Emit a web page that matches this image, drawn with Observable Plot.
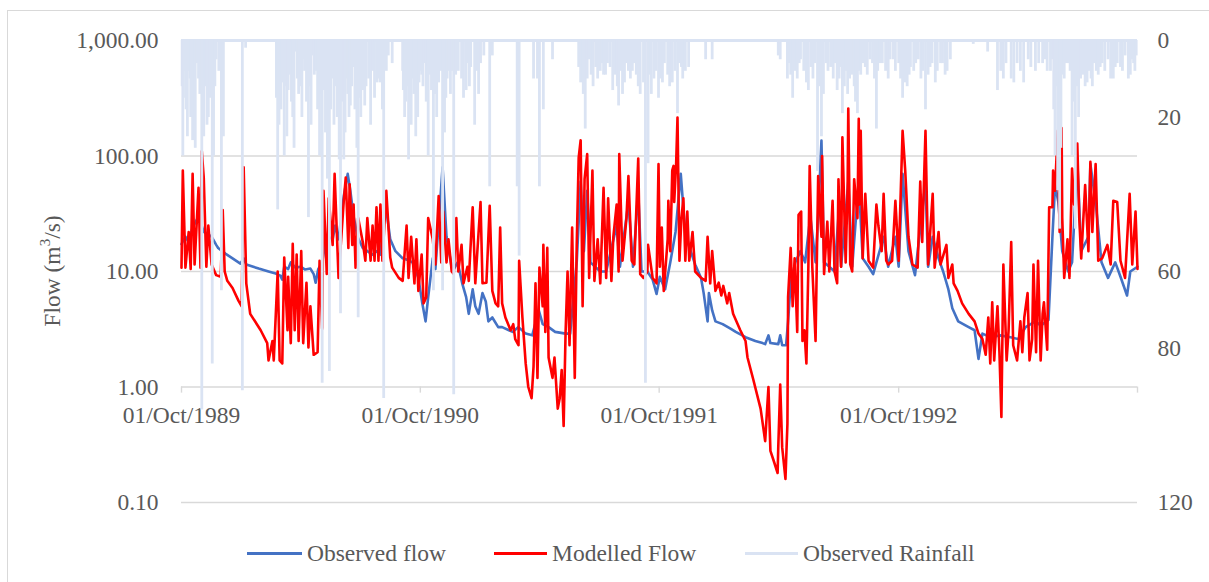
<!DOCTYPE html>
<html><head><meta charset="utf-8">
<script src="https://cdn.jsdelivr.net/npm/d3@7"></script>
<script src="https://cdn.jsdelivr.net/npm/@observablehq/plot@0.6"></script>
<style>
html,body{margin:0;padding:0;background:#fff;overflow:hidden;width:1209px;height:582px;}
#frame{position:absolute;left:7px;top:10px;width:1400px;height:800px;border:1px solid #d9d9d9;box-sizing:border-box;}
#chart{position:absolute;left:0;top:0;}
#legend{position:absolute;left:0;top:538px;width:1209px;height:30px;font-family:"Times New Roman","Liberation Serif",serif;font-size:23.5px;color:#595959;}
.item{position:absolute;top:0;display:flex;align-items:center;height:30px;white-space:nowrap;}
.swatch{display:inline-block;width:54px;height:3px;margin-right:6px;}
</style></head><body>
<div id="frame"></div>
<div id="chart"></div>
<div id="legend"></div>
<script>
// Day offsets from 01/Oct/1989, values in m3/s
const observedFlow = [[0,17.3],[6,20],[11,18],[17,24],[26,30],[34,22],[46,20],[53,17],[56,16],[67,14.3],[78,13],[90,11.7],[95,13],[99,11.5],[118,10.6],[133,10],[144,9.6],[151,9.2],[154,8.5],[157,11],[163,10.5],[167,12],[174,10.8],[182,11],[189,10.4],[197,10.6],[202,9.5],[205,8.0],[209,10.5],[215,12],[220,18],[225,20],[231,19],[235,25],[240,19],[248,45],[254,70],[258,50],[263,30],[269,20],[277,16],[284,15],[292,14],[298,15],[304,14],[312,38],[319,19],[327,15],[338,13],[347,12.5],[353,12],[362,8.8],[368,5.3],[373,3.7],[377,6],[384,13],[388,10.5],[399,80],[405,20],[414,10],[422,12],[429,7.9],[435,6],[439,4.3],[445,7],[449,5],[454,4.3],[460,6.5],[465,5.5],[469,3.7],[475,4.0],[484,3.3],[490,3.3],[506,3.0],[515,3.3],[526,2.9],[536,2.8],[546,4.6],[552,3.5],[561,3.3],[571,3.0],[587,2.9],[594,2.9],[597,4.5],[604,12],[610,60],[615,15],[620,50],[625,12],[640,10],[649,10],[665,25],[670,11],[683,40],[690,11],[698,50],[703,10],[712,10],[720,8.5],[726,6.4],[731,9],[739,7],[747,12],[755,22],[763,70],[769,25],[775,17],[785,11.5],[794,8.8],[798,6.5],[804,3.7],[806,6.5],[811,4.6],[816,3.7],[827,3.5],[839,3.2],[847,3.0],[862,2.7],[877,2.5],[888,2.4],[892,2.35],[897,2.8],[900,2.4],[912,2.35],[915,2.8],[918,2.3],[924,2.3],[927,3.7],[931,8],[938,12],[946,15],[953,12],[961,30],[969,12],[973,30],[978,136],[982,12],[990,11],[998,10],[1004,30],[1008,11],[1019,60],[1025,11],[1035,60],[1041,13],[1050,11],[1057,9.5],[1073,20],[1080,11],[1091,20],[1096,11],[1102,70],[1111,15],[1121,9.3],[1137,60],[1141,11],[1148,20],[1157,13],[1164,10],[1172,7],[1178,4.8],[1187,3.7],[1203,3.3],[1212,3.1],[1218,1.75],[1224,2.9],[1236,2.7],[1251,2.8],[1267,2.7],[1279,2.6],[1290,3.3],[1305,3.7],[1313,3.4],[1325,3.8],[1331,20],[1335,56],[1340,40],[1346,15],[1355,10],[1361,12],[1369,89],[1375,15],[1386,20],[1389,85],[1397,40],[1406,12],[1416,8.8],[1427,12],[1435,9],[1445,6.2],[1450,10],[1461,11]];

const modelledFlow = [[0,10.8],[2,75],[6,10.8],[11,22],[14,10.5],[17,70],[20,11.5],[26,53],[29,10.8],[31,110],[34,65],[38,11],[41,25],[46,11.5],[53,9.3],[60,9.0],[63,34],[66,10],[70,8.3],[78,7.2],[87,5.6],[92,5.0],[95,80],[99,7.9],[105,4.3],[121,3.1],[131,2.4],[133,1.7],[139,2.5],[141,1.7],[147,10],[150,1.7],[154,1.6],[157,13.2],[162,3.1],[163,9],[167,2.4],[170,17.4],[173,3.1],[176,14],[179,2.5],[183,15],[186,2.4],[191,8],[194,2.2],[197,5],[202,1.9],[208,2.0],[211,12.4],[215,3.2],[217,50],[222,9.5],[225,43],[231,17],[234,70],[240,8.8],[248,41],[251,65],[255,16],[257,57],[261,17],[263,38],[266,10.8],[270,29],[277,18],[281,12.4],[284,29],[289,12.4],[292,25],[295,12.4],[298,36],[301,12.4],[304,38],[307,12.4],[313,50],[319,13.2],[322,10.8],[332,8.8],[338,8.3],[344,25],[347,8.8],[351,20],[356,7.9],[359,19],[362,6.8],[367,14],[370,5.3],[374,6],[377,29],[384,19],[388,11.5],[393,45],[397,12],[400,33],[405,12],[408,19],[413,10],[416,9.5],[420,29],[423,10],[428,17],[431,7.9],[437,11],[439,8.3],[445,36],[449,7.9],[457,40],[460,7.9],[466,8],[471,37],[475,6.8],[480,5.3],[484,5.0],[487,24],[490,5.3],[495,4.0],[503,3.1],[507,3.5],[510,2.6],[515,2.3],[516,12.4],[521,4.0],[526,1.6],[530,1.0],[535,0.8],[538,1.5],[541,7.9],[544,1.2],[547,10.8],[552,5],[553,17],[556,3],[559,16],[561,1.8],[567,1.2],[570,1.8],[575,0.65],[578,0.8],[581,1.4],[584,0.46],[587,3],[590,10],[593,2.3],[597,24],[601,1.2],[604,17],[607,97],[610,137],[613,5],[616,63],[620,104],[623,8.8],[628,75],[631,8.3],[636,19],[640,7.9],[645,53],[649,8.8],[652,43],[657,8.3],[660,20],[665,38],[668,10],[669,104],[674,12.4],[680,29],[683,67],[688,12.4],[692,11.5],[698,95],[701,9.5],[706,8.8],[712,10],[713,17],[720,8.8],[726,7.9],[729,85],[731,11],[734,24],[737,6.8],[743,19],[744,41],[747,15],[750,75],[752,82],[753,40],[756,88],[758,215],[761,12.4],[764,29],[767,43],[770,12.4],[773,33],[776,12.4],[781,22],[785,10],[794,8.8],[801,8.3],[804,20],[808,7.9],[811,15],[816,6.8],[821,8],[825,6.2],[828,7.5],[834,5.3],[837,6.5],[843,4.3],[854,3.1],[862,2.5],[865,1.8],[874,1.15],[885,0.65],[892,0.34],[897,1.0],[900,0.28],[905,0.23],[911,0.18],[912,0.3],[915,1.05],[918,0.3],[923,0.16],[926,0.48],[927,6],[931,16],[934,5],[937,13],[941,3],[943,31],[947,33],[949,2.5],[952,3.1],[955,1.6],[958,11],[960,82],[964,11],[969,2.5],[973,67],[978,20],[979,100],[982,9.5],[987,27],[990,10],[995,41],[998,10],[1002,7.9],[1004,63],[1008,11],[1010,145],[1015,12],[1018,53],[1019,258],[1022,11.5],[1025,10],[1028,63],[1033,29],[1035,210],[1036,38],[1038,165],[1041,13],[1045,47],[1050,12.4],[1057,10.8],[1062,38],[1065,25],[1070,15],[1073,47],[1077,12.4],[1080,11.5],[1086,12.4],[1091,41],[1096,12.4],[1102,165],[1106,75],[1111,20],[1117,11.5],[1125,10.8],[1129,60],[1132,18],[1137,165],[1141,11.5],[1148,47],[1151,10.8],[1157,22],[1160,11.5],[1169,17],[1172,8.8],[1178,11.5],[1180,7.9],[1186,6.8],[1193,5.3],[1203,4.3],[1212,3.7],[1218,2.9],[1224,2.6],[1229,1.9],[1233,4.0],[1236,1.6],[1239,5.4],[1242,1.7],[1247,5.0],[1250,2.0],[1253,0.55],[1256,11.5],[1261,1.7],[1264,3.1],[1268,18],[1271,2.3],[1277,1.7],[1282,3.7],[1285,2.0],[1288,4.0],[1293,6.5],[1296,1.7],[1300,2.6],[1302,11.5],[1306,2.0],[1309,12.4],[1313,1.7],[1316,4.3],[1318,5.4],[1323,2.1],[1326,36],[1331,36],[1332,75],[1335,50],[1339,165],[1342,22],[1345,175],[1346,29],[1349,8.8],[1354,19],[1357,8.8],[1361,78],[1364,38],[1369,128],[1372,29],[1375,13],[1381,56],[1386,15],[1389,89],[1392,22],[1397,85],[1401,12.4],[1407,13],[1415,17],[1420,11.5],[1424,41],[1430,40],[1435,12.4],[1442,8.8],[1449,47],[1453,11.5],[1458,33],[1461,10.5]];

// Observed rainfall (mm), rain days only
const observedRainfall = [[1,12],[2,30],[3,15],[5,8],[7,18],[9,25],[11,8],[13,10],[14,20],[17,26],[19,12],[21,28],[23,6],[26,10],[28,14],[31,96],[34,25],[36,10],[37,12],[39,22],[41,20],[43,15],[44,8],[47,84],[49,30],[51,12],[53,5],[57,8],[61,65],[64,25],[93,91],[98,2],
[145,15],[147,44],[149,22],[150,5],[152,18],[154,11],[157,30],[159,12],[161,25],[163,13],[165,9],[168,16],[170,20],[172,28],[174,3],[177,10],[179,14],[182,12],[184,20],[186,5],[188,8],[191,16],[194,46],[196,12],[198,22],[200,4],[203,9],[206,8],[208,18],[211,30],[213,14],[215,89],[218,13],[220,24],[223,36],[226,86],[228,18],[231,10],[233,22],[234,9],[236,12],[238,20],[241,31],[243,71],[245,16],[248,31],[250,24],[252,10],[254,14],[256,20],[258,17],[260,12],[263,7],[265,18],[268,28],[270,72],[272,15],[274,20],[277,13],[280,17],[282,12],[286,10],[289,22],[292,8],[295,15],[299,11],[302,10],[304,11],[307,18],[309,93],[313,8],[316,4],[322,6],
[338,8],[339,13],[341,20],[343,16],[345,12],[347,31],[349,18],[351,22],[353,10],[355,14],[358,25],[361,20],[363,11],[365,8],[367,9],[369,12],[371,6],[374,16],[376,7],[377,30],[380,9],[382,13],[385,65],[387,14],[390,20],[393,11],[396,8],[399,65],[402,24],[404,15],[406,10],[408,8],[411,14],[413,8],[416,92],[419,9],[423,8],[428,10],[431,15],[435,13],[438,6],[440,12],[442,7],[448,22],[451,8],[454,14],[457,6],[462,4],[471,38],[475,4],
[513,38],[516,56],[538,10],[544,10],[547,38],[553,18],[567,5],
[607,7],[610,11],[612,8],[614,14],[617,23],[620,10],[623,5],[626,9],[629,12],[633,7],[636,10],[640,8],[643,6],[645,9],[648,9],[651,6],[655,7],[659,13],[662,9],[666,12],[668,17],[671,8],[674,14],[677,11],[680,6],[683,8],[686,10],[689,8],[692,6],[695,9],[698,12],[701,14],[706,11],[709,89],[713,32],[716,9],[718,14],[722,10],[725,8],[729,15],[732,10],[735,11],[738,6],[743,9],[746,12],[750,11],[754,8],[758,19],[761,6],[764,7],[766,10],[770,8],[775,7],[801,5],[811,5],
[912,4],[915,5],[926,10],[929,6],[931,9],[934,15],[938,8],[941,10],[944,6],[946,5],[951,8],[955,11],[958,13],[962,7],[965,10],[968,6],[972,34],[975,12],[978,25],[981,14],[985,6],[988,8],[992,7],[996,10],[999,6],[1002,13],[1005,10],[1008,7],[1010,19],[1013,12],[1015,8],[1018,14],[1021,10],[1025,9],[1028,12],[1030,16],[1033,19],[1035,8],[1038,9],[1041,6],[1045,7],[1048,9],[1052,5],[1056,6],[1059,10],[1062,23],[1064,8],[1067,6],[1071,6],[1076,8],[1080,10],[1083,5],[1088,5],[1091,8],[1096,6],[1099,10],[1102,15],[1106,11],[1109,12],[1112,9],[1114,7],[1119,8],[1122,6],[1126,5],[1130,10],[1133,8],[1137,18],[1141,9],[1144,7],[1147,6],[1152,11],[1155,8],[1160,6],[1163,6],[1167,9],[1170,8],[1175,5],
[1210,1],[1232,3],[1247,13],[1252,8],[1256,10],[1260,6],[1268,10],[1272,11],[1277,6],[1282,8],[1287,11],[1294,5],[1298,7],[1305,8],[1310,6],[1316,6],[1320,5],[1323,8],[1328,8],[1331,5],[1333,18],[1335,30],[1337,12],[1339,39],[1342,49],[1344,28],[1346,9],[1349,10],[1352,6],[1355,6],[1358,8],[1361,30],[1363,16],[1366,49],[1369,12],[1371,20],[1374,10],[1378,9],[1381,12],[1384,11],[1387,8],[1390,10],[1392,12],[1395,6],[1398,8],[1401,9],[1404,7],[1407,6],[1411,8],[1416,5],[1420,10],[1424,10],[1427,7],[1430,6],[1435,7],[1438,8],[1442,4],[1447,10],[1450,9],[1452,5],[1455,6],[1457,8],[1459,4]];

const flowTicks = [0.1, 1, 10, 100, 1000];
const rainTicks = [0, 20, 40, 60, 80, 100, 120];
const yearTickDates = ["1989-10-01","1990-10-01","1991-10-01","1992-10-01","1993-10-01"];
const yearLabelDates = ["1989-10-01","1990-10-01","1991-10-01","1992-10-01"];
const seriesNames = ["Observed flow", "Modelled Flow", "Observed Rainfall"];
const seriesColors = ["#4472C4", "#FF0000", "#DAE3F3"];

const START = Date.UTC(1989, 9, 1);
const dayToDate = d => new Date(START + d * 864e5);
const toFlow = r => Math.pow(10, 3 - r / 30); // rainfall axis (0 top .. 120 bottom) mapped on flow scale
const rainLabel = new Map(rainTicks.map(r => [toFlow(r), String(r)]));
const fmtDate = d3.utcFormat("%d/%b/%Y");
const FONT = '"Times New Roman","Liberation Serif",serif';
const FS = 23.5;
const GRID = "#d9d9d9";

const plot = Plot.plot({
  width: 1209, height: 530,
  marginLeft: 181, marginRight: 72, marginTop: 40, marginBottom: 28,
  style: {fontFamily: FONT, fontSize: FS + "px", color: "#595959", background: "transparent", overflow: "visible"},
  x: {type: "utc", domain: [dayToDate(0), dayToDate(1461)], axis: null},
  y: {type: "log", domain: [0.1, 1000], axis: null},
  marks: [
    Plot.ruleY(flowTicks, {stroke: GRID, strokeWidth: 1.4}),
    Plot.ruleX(yearTickDates.map(s => new Date(s)), {x: d => d, y1: 1, y2: 0.885, stroke: GRID, strokeWidth: 1.4}),
    Plot.text(yearLabelDates.map(s => new Date(s)), {x: d => d, y: 1, dy: 28, text: d => fmtDate(d), fill: "#595959", fontSize: FS}),
    Plot.axisY({anchor: "left", ticks: flowTicks, tickFormat: d3.format(",.2f"), tickSize: 0, tickPadding: 23, label: null, fontSize: FS}),
    Plot.axisY({anchor: "right", ticks: rainTicks.map(toFlow), tickFormat: v => rainLabel.get(v), tickSize: 0, tickPadding: 20, label: null, fontSize: FS}),
    Plot.line(observedFlow, {x: d => dayToDate(d[0]), y: d => d[1], stroke: seriesColors[0], strokeWidth: 2.6, strokeLinejoin: "round"}),
    Plot.line(modelledFlow, {x: d => dayToDate(d[0]), y: d => d[1], stroke: seriesColors[1], strokeWidth: 2.6, strokeLinejoin: "round"}),
    Plot.ruleY([toFlow(0)], {stroke: seriesColors[2], strokeWidth: 2.8}),
    Plot.ruleX(observedRainfall, {x: d => dayToDate(d[0]), y1: toFlow(0), y2: d => toFlow(d[1]), stroke: seriesColors[2], strokeWidth: 2.8})
  ]
});

// Y axis title
const t = d3.select(plot).append("text")
  .attr("transform", "translate(55,271) rotate(-90)")
  .attr("text-anchor", "middle")
  .attr("dominant-baseline", "middle")
  .attr("fill", "#595959")
  .style("font-family", FONT).style("font-size", FS + "px");
t.append("tspan").text("Flow (m");
t.append("tspan").text("3").attr("baseline-shift", "super").style("font-size", "15px");
t.append("tspan").text("/s)");

document.getElementById("chart").appendChild(plot);

// Legend
const legendPos = [[247, 307], [494, 552], [745, 803]];
const legend = d3.select("#legend");
seriesNames.forEach((name, i) => {
  legend.append("div").attr("class", "swatch")
    .style("position", "absolute").style("left", legendPos[i][0] + "px").style("top", "14px")
    .style("width", (legendPos[i][1] - legendPos[i][0] - 5) + "px")
    .style("background", seriesColors[i]);
  legend.append("div").attr("class", "item")
    .style("left", legendPos[i][1] + "px").text(name);
});
</script></body></html>
